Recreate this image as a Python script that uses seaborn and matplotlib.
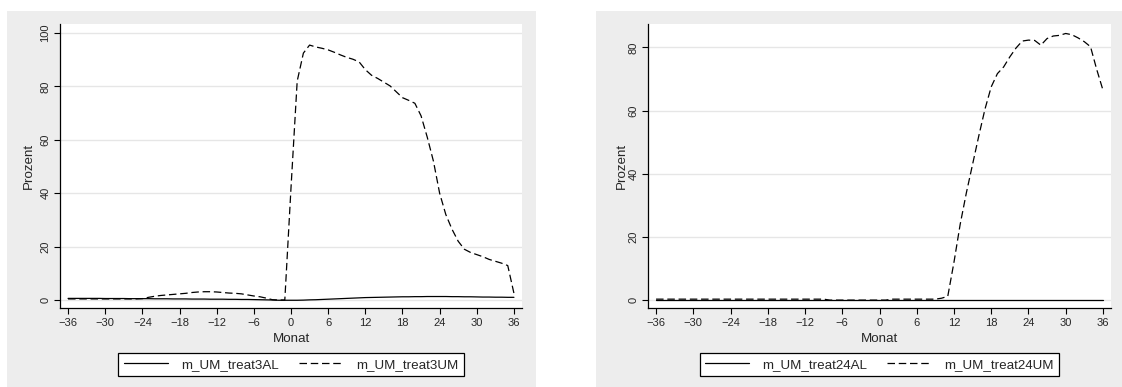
import numpy as np
import pandas as pd
import matplotlib
matplotlib.use("Agg")
import matplotlib.pyplot as plt
from matplotlib.patches import Rectangle
import seaborn as sns

# Months relative to the event
months = list(range(-36, 37))

# Treatment 3: share (percent) per month
treat3AL = [0.6, 0.6, 0.6, 0.6, 0.6, 0.6, 0.55, 0.55, 0.55, 0.55, 0.5, 0.5,
            0.5, 0.5, 0.45, 0.45, 0.45, 0.4, 0.4, 0.4, 0.35, 0.35, 0.35, 0.3,
            0.3, 0.3, 0.25, 0.25, 0.2, 0.2, 0.15, 0.1, 0.05, 0.0, -0.1, -0.1,
            -0.1, -0.1, -0.05, 0.05, 0.1, 0.2, 0.3, 0.4, 0.5, 0.6, 0.7, 0.8,
            0.9, 0.95, 1.0, 1.05, 1.1, 1.15, 1.2, 1.2, 1.25, 1.25, 1.3, 1.3,
            1.3, 1.3, 1.25, 1.25, 1.2, 1.2, 1.15, 1.1, 1.1, 1.05, 1.05, 1.0, 1.0]
treat3UM = [0.4, 0.4, 0.4, 0.4, 0.4, 0.4, 0.4, 0.4, 0.4, 0.4, 0.4, 0.4,
            0.5, 1.0, 1.4, 1.7, 1.9, 2.1, 2.3, 2.5, 2.8, 3.0, 3.1, 3.1,
            3.0, 2.8, 2.6, 2.5, 2.3, 1.9, 1.5, 1.2, 0.7, 0.1, 0.0, 0.0,
            42.0, 82.0, 92.5, 95.5, 94.8, 94.3, 93.7, 92.8, 91.8, 90.9, 90.2, 89.2,
            86.3, 84.2, 83.0, 81.6, 80.2, 78.0, 75.8, 74.8, 73.7, 69.0, 61.0, 52.0,
            40.0, 32.0, 26.5, 22.0, 19.0, 17.8, 17.0, 16.2, 15.2, 14.5, 13.8, 12.9, 2.5]

# Treatment 24: share (percent) per month
treat24AL = [0.05] * 73
treat24UM = [0.3, 0.3, 0.3, 0.3, 0.3, 0.3, 0.3, 0.3, 0.3, 0.3, 0.3, 0.3,
             0.3, 0.3, 0.3, 0.3, 0.3, 0.3, 0.3, 0.3, 0.3, 0.3, 0.3, 0.3,
             0.3, 0.3, 0.3, 0.3, 0.0, 0.0, 0.0, 0.0, 0.0, 0.0, 0.0, 0.0,
             0.0, 0.0, 0.3, 0.3, 0.3, 0.3, 0.3, 0.3, 0.3, 0.3, 0.6, 1.2,
             12.0, 24.0, 34.0, 43.0, 52.0, 60.5, 67.5, 71.7, 73.8, 77.0, 79.8, 82.0,
             82.3, 82.2, 80.7, 82.8, 83.6, 83.8, 84.4, 84.0, 83.0, 81.8, 80.2, 73.0, 66.5]

xticks = list(range(-36, 37, 6))
yticks_left = [0, 20, 40, 60, 80, 100]
yticks_right = [0, 20, 40, 60, 80]

sns.set_theme(style="white")
plt.rcParams["font.family"] = ["Liberation Sans", "DejaVu Sans"]
plt.rcParams["axes.unicode_minus"] = True

W, H = 1122, 387
fig = plt.figure(figsize=(W / 100, H / 100), dpi=100)
fig.patch.set_facecolor("white")

panel_bg = "#EDEDED"
# gray graph regions behind each panel
fig.patches.append(Rectangle((7 / W, 0), (536 - 7) / W, 1 - 11 / H,
                             transform=fig.transFigure, facecolor=panel_bg,
                             edgecolor="none", zorder=-5))
fig.patches.append(Rectangle((596 / W, 0), (W - 596) / W, 1 - 11 / H,
                             transform=fig.transFigure, facecolor=panel_bg,
                             edgecolor="none", zorder=-5))

dash = (0, (6.0, 3.0))
label_fs = 9.6


def panel(rect, al, um, names, yticks, ylim, ylabpad):
    ax = fig.add_axes(rect)
    ax.set_zorder(2)
    ax.set_facecolor("white")
    df = pd.DataFrame({"Monat": months, names[0]: al, names[1]: um})
    sns.lineplot(data=df, x="Monat", y=names[0], ax=ax, color="black",
                 linewidth=0.9, label=names[0])
    sns.lineplot(data=df, x="Monat", y=names[1], ax=ax, color="black",
                 linewidth=0.9, linestyle=dash, label=names[1])
    ax.set_xlim(-37.3, 37.3)
    ax.set_ylim(*ylim)
    ax.set_xticks(xticks)
    ax.set_yticks(yticks)
    ax.yaxis.grid(True, color="#E6E6E6", linewidth=1.0)
    ax.set_axisbelow(True)
    for s in ("top", "right"):
        ax.spines[s].set_visible(False)
    for s in ("left", "bottom"):
        ax.spines[s].set_color("black")
        ax.spines[s].set_linewidth(0.9)
    ax.tick_params(axis="both", direction="out", length=4.5, width=0.8,
                   color="black", labelsize=8.0, pad=2.5, bottom=True, left=True)
    for lab in ax.get_yticklabels():
        lab.set_rotation(90)
        lab.set_va("center")
    ax.set_xlabel("Monat", fontsize=label_fs, labelpad=3.5)
    ax.set_ylabel("Prozent", fontsize=label_fs, labelpad=ylabpad)
    cx = rect[0] + rect[2] / 2
    ax.legend(loc="center", bbox_to_anchor=(cx, 1 - 364.5 / H),
              bbox_transform=fig.transFigure, ncol=2, frameon=True,
              fancybox=False, edgecolor="black", fontsize=label_fs,
              handlelength=3.3, columnspacing=1.5, borderpad=0.4,
              handletextpad=1.0)
    leg = ax.get_legend()
    leg.get_frame().set_linewidth(0.9)
    leg.get_frame().set_facecolor("white")
    leg.get_frame().set_alpha(1)
    return ax


bottom = (H - 308) / H
height = (308 - 24) / H
panel([60 / W, bottom, (522 - 60) / W, height], treat3AL, treat3UM,
      ["m_UM_treat3AL", "m_UM_treat3UM"], yticks_left, (-3, 103.4), 4)
panel([648 / W, bottom, (1111 - 648) / W, height], treat24AL, treat24UM,
      ["m_UM_treat24AL", "m_UM_treat24UM"], yticks_right, (-2.5, 87.4), 0)

fig.savefig("out.png", dpi=100)
